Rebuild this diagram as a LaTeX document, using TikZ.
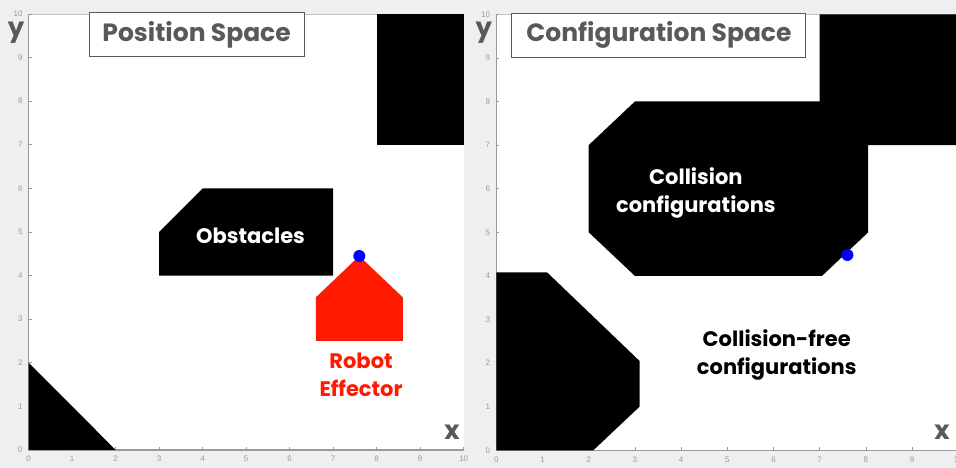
\documentclass[tikz,border=0pt]{standalone}
\usepackage{fontspec}
\setmainfont{Poppins}
\setsansfont{Liberation Sans}
\definecolor{fondo}{HTML}{EFEFF1}
\definecolor{ejes}{HTML}{9A9A9A}
\definecolor{titulo}{HTML}{595959}
\definecolor{robot}{HTML}{FF1A00}
\begin{document}
\begin{tikzpicture}[x=1pt,y=1pt,
  eje/.style={ejes, line width=1.2pt},
  marca/.style={font=\sffamily\fontsize{8}{8}\selectfont, text=ejes, inner sep=0pt},
  caja/.style={draw=titulo, line width=0.9pt, fill=white, text=titulo,
    font=\bfseries\fontsize{25}{25}\selectfont, minimum height=44pt, inner sep=0pt},
  etiqueta/.style={font=\bfseries\fontsize{21}{28}\selectfont, align=center, inner sep=0pt},
  letra/.style={text=titulo, font=\bfseries\fontsize{26}{26}\selectfont, inner sep=0pt}]
\useasboundingbox (0,0) rectangle (956,468);
\clip (0,0) rectangle (956,468);
\fill[fondo] (0,0) rectangle (956,468);

% Espacio de posiciones
\begin{scope}[shift={(28.7,18)}, x=43.5pt, y=43.6pt]
\fill[white] (0,0) rectangle (10,10);
\draw[ejes!60, line width=0.8pt] (0,10) -- (10,10);
\draw[eje] (0,10) -- (0,0) -- (10,0);
\foreach \i in {0,...,10} {
  \draw[eje, line width=0.6pt] (\i,0) -- ++(0,3pt);
  \draw[eje, line width=0.6pt] (0,\i) -- ++(3pt,0);
  \node[marca] (px\i) at ([yshift=-9pt]\i,0) {\i};
  \node[marca, anchor=east] (py\i) at ([xshift=-6pt]0,\i) {\i};
}

% Obstaculos
\fill[black] (8,7) rectangle (10,10);
\fill[black] (3,4) -- (3,5) -- (4,6) -- (7,6) -- (7,4) -- cycle;
\fill[black] (0,0) -- (0,2) -- (2,0) -- cycle;

% Robot
\fill[robot] (6.6,2.5) -- (8.6,2.5) -- (8.6,3.5) -- (7.6,4.45) -- (6.6,3.5) -- cycle;
\fill[blue] (7.6,4.45) circle (6pt);

% Etiquetas
\node[etiqueta, text=white] (obst) at (5.1,4.91) {Obstacles};
\node[etiqueta, text=robot] (efector) at (7.64,1.73) {Robot\\Effector};
\node[caja, minimum width=215pt] (tpos) at (3.86,9.52) {Position Space};
\node[letra] (ypos) at (-0.29,9.58) {y};
\node[letra] (xpos) at (9.73,0.41) {x};
\end{scope}

% Espacio de configuraciones
\begin{scope}[shift={(496.3,17.7)}, x=46.2pt, y=43.6pt]
\fill[white] (0,0) rectangle (10,10);
\draw[ejes!60, line width=0.8pt] (0,10) -- (10,10);
\draw[eje] (0,10) -- (0,0) -- (10,0);
\foreach \i in {0,...,10} {
  \draw[eje, line width=0.6pt] (\i,0) -- ++(0,3pt);
  \draw[eje, line width=0.6pt] (0,\i) -- ++(3pt,0);
  \node[marca] (cx\i) at ([yshift=-9pt]\i,0) {\i};
  \node[marca, anchor=east] (cy\i) at ([xshift=-6pt]0,\i) {\i};
}

% Obstaculos en C
\fill[black] (2,5) -- (3,4) -- (7.05,4) -- (8.05,5) -- (8.05,7) -- (10,7) -- (10,10)
  -- (7,10) -- (7,8) -- (3,8) -- (2,7) -- cycle;
\fill[black] (0,0) -- (0,4.08) -- (1.1,4.08) -- (3.1,2.05) -- (3.1,1) -- (2.1,0) -- cycle;
\fill[blue] (7.6,4.48) circle (6pt);

% Etiquetas
\node[etiqueta, text=white] (colision) at (4.32,5.9) {Collision\\configurations};
\node[etiqueta, text=black] (libre) at (6.07,2.19) {Collision-free\\configurations};
\node[caja, minimum width=294pt] (tconf) at (3.52,9.52) {Configuration Space};
\node[letra] (yconf) at (-0.27,9.58) {y};
\node[letra] (xconf) at (9.65,0.41) {x};
\end{scope}
\end{tikzpicture}
\end{document}
